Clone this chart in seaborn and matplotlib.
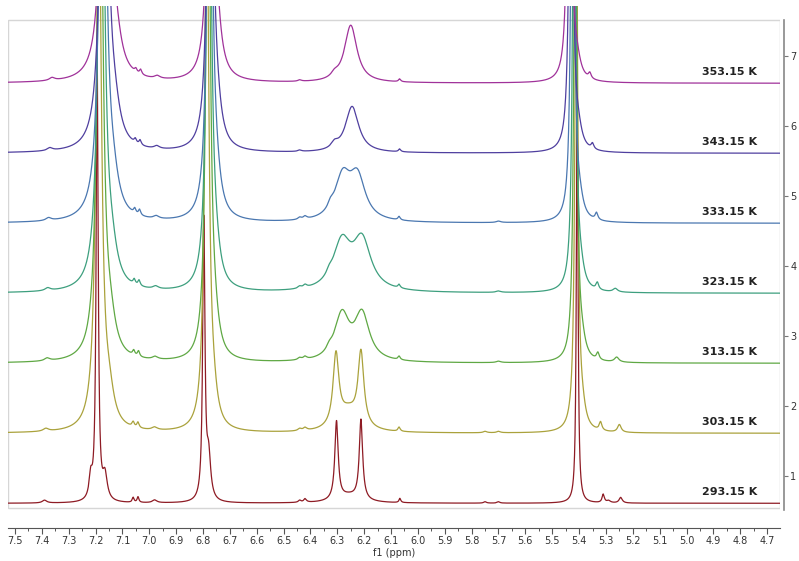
import numpy as np
import pandas as pd
import seaborn as sns
import matplotlib
matplotlib.use("Agg")
import matplotlib.pyplot as plt
from matplotlib.patches import Rectangle
from matplotlib.transforms import blended_transform_factory
from matplotlib.ticker import MultipleLocator

# ---------------- data ----------------
temps = ["293.15 K", "303.15 K", "313.15 K", "323.15 K", "333.15 K", "343.15 K", "353.15 K"]
colors = ["#8e1b24", "#aaa23c", "#5fa844", "#3d9f7e", "#4a77b0", "#4f3f9f", "#a0329a"]
offsets = [0.61, 1.61, 2.61, 3.61, 4.61, 5.61, 6.61]

# peaks: (shift ppm, height, half width ppm)
pk_293 = [(7.390, 0.04, 0.010), (7.218, 0.30, 0.007), (7.194, 6.30, 0.0045), (7.165, 0.35, 0.010),
          (7.060, 0.07, 0.004), (7.042, 0.08, 0.004), (6.980, 0.04, 0.010),
          (6.797, 4.00, 0.0050), (6.779, 0.60, 0.009), (6.440, 0.03, 0.006), (6.420, 0.05, 0.006),
          (6.303, 1.12, 0.0075), (6.257, 0.10, 0.050), (6.212, 1.14, 0.0075), (6.067, 0.06, 0.004),
          (5.750, 0.02, 0.006), (5.700, 0.02, 0.006),
          (5.407, 6.20, 0.0035), (5.310, 0.12, 0.005), (5.290, 0.03, 0.008), (5.245, 0.08, 0.007)]
pk_303 = [(7.385, 0.04, 0.012), (7.188, 8.00, 0.0115), (7.150, 0.40, 0.022),
          (7.060, 0.07, 0.005), (7.042, 0.08, 0.005), (6.980, 0.04, 0.012),
          (6.786, 8.00, 0.0091), (6.762, 0.35, 0.018), (6.440, 0.03, 0.008), (6.420, 0.04, 0.008),
          (6.305, 1.02, 0.013), (6.258, 0.28, 0.045), (6.212, 1.04, 0.013), (6.070, 0.06, 0.005),
          (5.750, 0.02, 0.008), (5.700, 0.02, 0.008),
          (5.410, 8.00, 0.0061), (5.388, 0.22, 0.015), (5.320, 0.12, 0.006), (5.250, 0.11, 0.008)]
pk_313 = [(7.380, 0.04, 0.012), (7.183, 8.00, 0.0125), (7.145, 0.40, 0.024),
          (7.058, 0.07, 0.005), (7.040, 0.08, 0.005), (6.978, 0.04, 0.012),
          (6.781, 8.00, 0.0096), (6.757, 0.38, 0.019), (6.440, 0.03, 0.008), (6.420, 0.04, 0.008),
          (6.330, 0.06, 0.012), (6.283, 0.65, 0.033), (6.208, 0.66, 0.033), (6.070, 0.05, 0.005),
          (5.700, 0.02, 0.010),
          (5.414, 8.00, 0.0063), (5.390, 0.22, 0.016), (5.330, 0.10, 0.006), (5.260, 0.07, 0.010)]
pk_323 = [(7.378, 0.04, 0.012), (7.178, 8.00, 0.0130), (7.140, 0.40, 0.025),
          (7.056, 0.07, 0.005), (7.038, 0.08, 0.005), (6.976, 0.04, 0.012),
          (6.778, 8.00, 0.0098), (6.754, 0.40, 0.020), (6.440, 0.03, 0.008), (6.420, 0.04, 0.008),
          (6.330, 0.06, 0.012), (6.283, 0.67, 0.040), (6.208, 0.70, 0.040), (6.070, 0.05, 0.005),
          (5.700, 0.02, 0.010),
          (5.418, 8.00, 0.0065), (5.394, 0.22, 0.016), (5.332, 0.10, 0.006), (5.265, 0.05, 0.010)]
pk_333 = [(7.375, 0.04, 0.012), (7.173, 8.00, 0.0135), (7.135, 0.40, 0.025),
          (7.054, 0.07, 0.005), (7.036, 0.08, 0.005), (6.974, 0.04, 0.012),
          (6.775, 8.00, 0.0100), (6.751, 0.40, 0.020), (6.440, 0.03, 0.008), (6.420, 0.04, 0.008),
          (6.325, 0.08, 0.012), (6.280, 0.60, 0.035), (6.225, 0.60, 0.035), (6.070, 0.05, 0.005),
          (5.700, 0.02, 0.010),
          (5.424, 8.00, 0.0066), (5.398, 0.22, 0.016), (5.335, 0.10, 0.006)]
pk_343 = [(7.370, 0.04, 0.012), (7.168, 8.00, 0.0135), (7.130, 0.40, 0.025),
          (7.052, 0.06, 0.005), (7.034, 0.07, 0.005), (6.972, 0.04, 0.012),
          (6.773, 8.00, 0.0100), (6.749, 0.40, 0.020), (6.440, 0.02, 0.008),
          (6.310, 0.08, 0.015), (6.245, 0.66, 0.030), (6.068, 0.04, 0.005),
          (5.430, 8.00, 0.0066), (5.403, 0.22, 0.016), (5.350, 0.08, 0.006)]
pk_353 = [(7.362, 0.04, 0.012), (7.163, 8.00, 0.0137), (7.125, 0.40, 0.025),
          (7.050, 0.05, 0.005), (7.032, 0.07, 0.005), (6.970, 0.04, 0.012),
          (6.771, 8.00, 0.0100), (6.747, 0.40, 0.020), (6.440, 0.02, 0.008),
          (6.310, 0.06, 0.015), (6.250, 0.82, 0.028), (6.068, 0.04, 0.005),
          (5.436, 8.00, 0.0066), (5.408, 0.22, 0.016), (5.360, 0.08, 0.006)]
peak_sets = [pk_293, pk_303, pk_313, pk_323, pk_333, pk_343, pk_353]

x_ticks = [7.5, 7.4, 7.3, 7.2, 7.1, 7.0, 6.9, 6.8, 6.7, 6.6, 6.5, 6.4, 6.3, 6.2, 6.1,
           6.0, 5.9, 5.8, 5.7, 5.6, 5.5, 5.4, 5.3, 5.2, 5.1, 5.0, 4.9, 4.8, 4.7]
y_ticks = [1, 2, 3, 4, 5, 6, 7]

# ---------------- build spectra ----------------
ppm = np.linspace(4.64, 7.54, 8000)
frames = []
for t, off, peaks in zip(temps, offsets, peak_sets):
    y = np.full_like(ppm, off)
    for c, h, w in peaks:
        y += h / (1.0 + ((ppm - c) / w) ** 2)
    frames.append(pd.DataFrame({"ppm": ppm, "intensity": y, "temp": t}))
df = pd.concat(frames, ignore_index=True)

# ---------------- plot ----------------
sns.set_theme(style="white")
plt.rcParams["font.family"] = ["DejaVu Sans"]
fig = plt.figure(figsize=(7.99, 5.61), dpi=100)
W, H = 799, 561
ax = fig.add_axes([8 / W, 33 / H, (780 - 8) / W, (555 - 33) / H])

sns.lineplot(data=df, x="ppm", y="intensity", hue="temp", hue_order=temps,
             palette=colors, legend=False, sort=False, estimator=None,
             linewidth=0.9, ax=ax)

ax.set_xlim(7.526, 4.652)
ax.set_ylim(0.257, 7.714)

# light frame
tr = blended_transform_factory(ax.transAxes, ax.transData)
ax.add_patch(Rectangle((0, 0.543), 1, 7.514 - 0.543, transform=tr, fill=False,
                       ec="#d6d6d6", lw=1.0, zorder=0.5))

for t, off in zip(temps, offsets):
    ax.text(4.738, off + 0.165, t, ha="right", va="center", fontsize=8,
            fontweight="bold", color="#222222")

ax.spines["left"].set_visible(False)
ax.spines["top"].set_visible(False)
ax.spines["bottom"].set_color("#555555")
ax.spines["bottom"].set_linewidth(0.8)
ax.spines["right"].set_color("#888888")
ax.spines["right"].set_linewidth(1.2)
ax.spines["right"].set_position(("outward", 3))
ax.spines["right"].set_bounds(0.51, 7.51)

ax.set_xticks(x_ticks)
ax.set_xticklabels([f"{v:.1f}" for v in x_ticks])
ax.xaxis.set_minor_locator(MultipleLocator(0.05))
ax.tick_params(axis="x", which="major", direction="out", length=4, width=0.8,
               color="#555555", labelsize=7, pad=2, bottom=True, labelcolor="#333333")
ax.tick_params(axis="x", which="minor", direction="out", length=2.5, width=0.7,
               color="#555555", bottom=True)

ax.yaxis.tick_right()
ax.set_yticks(y_ticks)
ax.set_yticklabels([str(v) for v in y_ticks])
ax.tick_params(axis="y", which="major", direction="out", length=3, width=0.8,
               color="#777777", labelsize=7, pad=1.5, right=True, left=False,
               labelcolor="#333333")
ax.set_ylabel("")
ax.set_xlabel("f1 (ppm)", fontsize=7, labelpad=1, color="#333333")

fig.savefig("out.png", dpi=100)
